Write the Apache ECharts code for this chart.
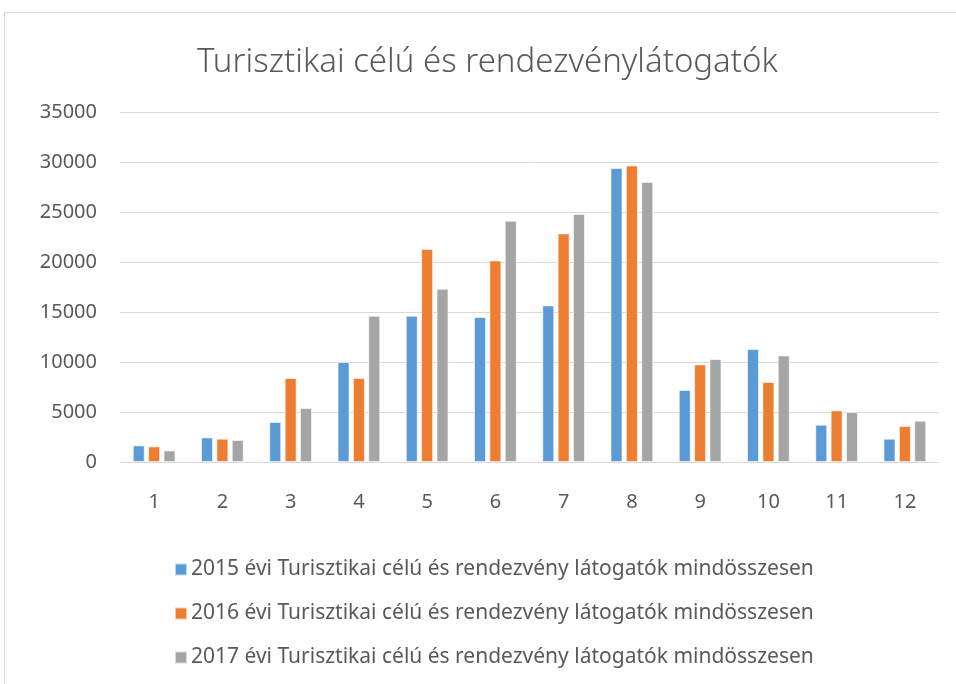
<!DOCTYPE html>
<html>
<head>
<meta charset="utf-8">
<script src="https://cdn.jsdelivr.net/npm/echarts@6/dist/echarts.min.js"></script>
<style>
  html, body { margin: 0; padding: 0; background: #fff; }
  #frame { position: absolute; left: 4px; top: 12px; width: 970px; height: 700px; border: 1px solid #d9d9d9; }
  #chart { position: absolute; left: 0; top: 0; width: 956px; height: 684px; }
</style>
</head>
<body>
<div id="frame"></div>
<div id="chart"></div>
<script>
var months = ['1', '2', '3', '4', '5', '6', '7', '8', '9', '10', '11', '12'];
var y2015 = [1660, 2460, 4000, 10000, 14630, 14500, 15660, 29400, 7200, 11300, 3730, 2330];
var y2016 = [1560, 2330, 8400, 8400, 21300, 20160, 22860, 29660, 9760, 8000, 5160, 3600];
var y2017 = [1160, 2200, 5400, 14630, 17330, 24130, 24800, 28000, 10300, 10660, 5000, 4130];
var seriesNames = [
  '2015 évi Turisztikai célú és rendezvény látogatók mindösszesen',
  '2016 évi Turisztikai célú és rendezvény látogatók mindösszesen',
  '2017 évi Turisztikai célú és rendezvény látogatók mindösszesen'
];
var colors = ['#5b9bd5', '#ed7d31', '#a5a5a5'];

var chart = echarts.init(document.getElementById('chart'));

function bar(name, data, color) {
  return {
    name: name,
    type: 'bar',
    data: data,
    barWidth: 12,
    barGap: '28%',
    itemStyle: { color: color, borderColor: 'rgba(255,255,255,0.6)', borderWidth: 1 }
  };
}

var option = {
  color: colors,
  animation: false,
  textStyle: { fontFamily: 'Noto Sans' },
  title: {
    text: 'Turisztikai célú és rendezvénylátogatók',
    left: 192,
    top: 41,
    textStyle: { fontSize: 33, fontWeight: 300, color: '#595959', fontFamily: 'Noto Sans' }
  },
  legend: {
    orient: 'vertical',
    left: 174,
    top: 559,
    padding: 0,
    itemWidth: 12,
    itemHeight: 12,
    itemGap: 23,
    icon: 'rect',
    textStyle: { fontSize: 21, lineHeight: 21, color: '#595959', padding: [0, 0, 0, -1] },
    data: seriesNames
  },
  grid: { left: 120, right: 17, top: 112, bottom: 222, containLabel: false },
  xAxis: {
    type: 'category',
    data: months,
    axisLine: { lineStyle: { color: '#d9d9d9' } },
    axisTick: { show: false },
    axisLabel: { color: '#595959', fontSize: 20, margin: 30 }
  },
  yAxis: {
    type: 'value',
    min: 0,
    max: 35000,
    interval: 5000,
    axisLine: { show: false },
    axisTick: { show: false },
    splitLine: { lineStyle: { color: '#d9d9d9' } },
    axisLabel: { color: '#595959', fontSize: 20, margin: 23, formatter: function (v) { return String(v); } }
  },
  series: [
    bar(seriesNames[0], y2015, colors[0]),
    bar(seriesNames[1], y2016, colors[1]),
    bar(seriesNames[2], y2017, colors[2])
  ]
};

chart.setOption(option);
</script>
</body>
</html>
